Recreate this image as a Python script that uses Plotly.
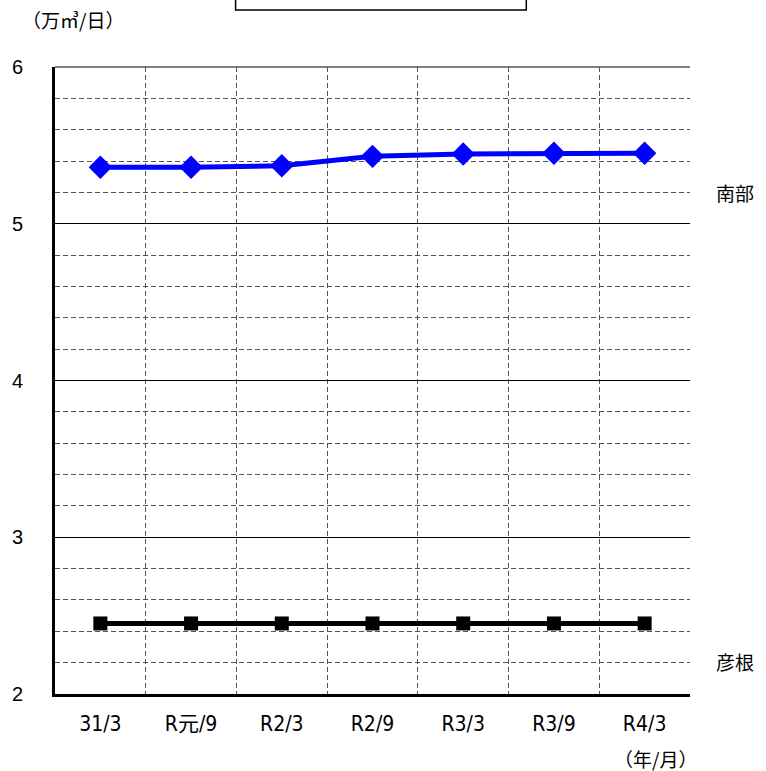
import plotly.graph_objects as go

categories = ["31/3", "R元/9", "R2/3", "R2/9", "R3/3", "R3/9", "R4/3"]
nanbu = [5.36, 5.36, 5.37, 5.43, 5.445, 5.45, 5.45]
hikone = [2.45, 2.45, 2.45, 2.45, 2.45, 2.45, 2.45]
y_ticks = [2, 3, 4, 5, 6]

CJK = "Noto Sans CJK JP"
XFONT = "DejaVu Sans Condensed, Noto Sans CJK JP"
YFONT = "Liberation Sans, Arial"
xs = list(range(len(categories)))
DASH = "5px,3px"

fig = go.Figure()
fig.add_trace(go.Scatter(x=xs, y=nanbu, mode="lines+markers",
                         line=dict(color="#0000ff", width=5),
                         marker=dict(symbol="diamond", size=18, color="#0000ff"),
                         showlegend=False, cliponaxis=False))
fig.add_trace(go.Scatter(x=xs, y=hikone, mode="lines+markers",
                         line=dict(color="#000000", width=5),
                         marker=dict(symbol="square", size=14, color="#000000"),
                         showlegend=False, cliponaxis=False))

fig.update_layout(
    width=766, height=771,
    margin=dict(l=50, r=76, t=67, b=77),
    paper_bgcolor="white", plot_bgcolor="white",
    font=dict(family=CJK, size=18, color="black"),
    xaxis=dict(range=[-0.5, len(categories) - 0.5], tickvals=xs, ticktext=categories,
               tickfont=dict(family=XFONT, size=21),
               showgrid=False, zeroline=False, showline=True, linecolor="black", linewidth=3,
               ticks="", ticklabelstandoff=9,
               minor=dict(tick0=0.5, dtick=1, showgrid=True, gridcolor="#555555",
                          griddash=DASH, gridwidth=1)),
    yaxis=dict(range=[2, 6], tickvals=y_ticks, showgrid=True, gridcolor="black", gridwidth=1,
               tickfont=dict(family=YFONT, size=20),
               zeroline=False, showline=True, linecolor="black", linewidth=3,
               ticks="", ticklabelstandoff=25,
               minor=dict(dtick=0.2, showgrid=True, gridcolor="#555555",
                          griddash=DASH, gridwidth=1)),
)

fig.add_shape(type="line", xref="paper", yref="paper", x0=0, x1=1, y0=1, y1=1,
              line=dict(color="#555555", width=1.5))
fig.add_shape(type="rect", xref="paper", yref="paper", x0=(232 - 50) / 640, x1=(525 - 50) / 640,
              y0=(694 - 10) / 627, y1=(694 + 5) / 627, line=dict(color="black", width=1.5))

fig.add_annotation(text="（万㎥/日）", xref="paper", yref="paper", x=(68 - 50) / 640, y=(694 - 19) / 627,
                   showarrow=False, xanchor="center", yanchor="middle", font=dict(size=19))
fig.add_annotation(text="南部", xref="paper", yref="paper", x=(735 - 50) / 640, y=(694 - 192) / 627,
                   showarrow=False, xanchor="center", yanchor="middle", font=dict(size=19))
fig.add_annotation(text="彦根", xref="paper", yref="paper", x=(735 - 50) / 640, y=(694 - 661) / 627,
                   showarrow=False, xanchor="center", yanchor="middle", font=dict(size=19))
fig.add_annotation(text="（年/月）", xref="paper", yref="paper", x=(655 - 50) / 640, y=(694 - 758) / 627,
                   showarrow=False, xanchor="center", yanchor="middle", font=dict(size=19))

fig.write_html("out.html")
